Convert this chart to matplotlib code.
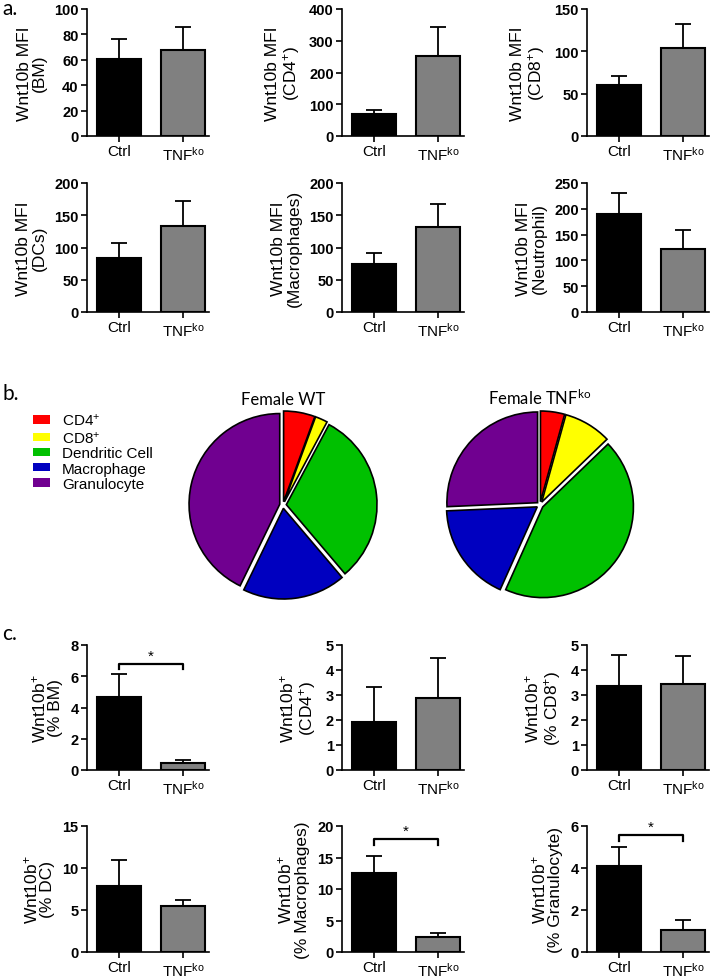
import numpy as np
import matplotlib
matplotlib.use("Agg")
import matplotlib.pyplot as plt
from matplotlib.patches import Patch

plt.rcParams['mathtext.default'] = 'regular'

ARIAL = ['Liberation Sans', 'DejaVu Sans']
CALIBRI = ['Lato', 'DejaVu Sans']

# ---- data ----
groups = ['Ctrl', 'TNF$^{ko}$']

# a. Wnt10b MFI (mean, upper error)
mfi_ylabels = ['Wnt10b MFI\n(BM)', 'Wnt10b MFI\n(CD4$^{+}$)', 'Wnt10b MFI\n(CD8$^{+}$)',
               'Wnt10b MFI\n(DCs)', 'Wnt10b MFI\n(Macrophages)', 'Wnt10b MFI\n(Neutrophil)']
mfi_mean = [[61, 68], [70, 253], [60.5, 104], [83, 134], [75, 132.5], [190, 122]]
mfi_err = [[15, 18], [11.5, 91], [10.5, 28], [24, 37.5], [17, 35.5], [40, 36]]
mfi_ymax = [100, 400, 150, 200, 200, 250]
mfi_step = [20, 100, 50, 50, 50, 50]

# b. cell composition (%)
cell_types = ['CD4$^{+}$', 'CD8$^{+}$', 'Dendritic Cell', 'Macrophage', 'Granulocyte']
cell_colors = ['#ff0000', '#ffff00', '#00c000', '#0000c0', '#700090']
wt_pct = [5.6, 2.2, 31.0, 18.4, 42.8]
ko_pct = [4.3, 8.5, 43.9, 17.6, 25.7]

# c. Wnt10b+ percentages
pos_ylabels = ['Wnt10b$^{+}$\n(% BM)', 'Wnt10b$^{+}$\n(CD4$^{+}$)', 'Wnt10b$^{+}$\n(% CD8$^{+}$)',
               'Wnt10b$^{+}$\n(% DC)', 'Wnt10b$^{+}$\n(% Macrophages)', 'Wnt10b$^{+}$\n(% Granulocyte)']
pos_mean = [[4.69, 0.43], [1.93, 2.88], [3.38, 3.44], [7.9, 5.5], [12.55, 2.45], [4.1, 1.05]]
pos_err = [[1.45, 0.21], [1.38, 1.6], [1.21, 1.13], [3.08, 0.7], [2.75, 0.6], [0.9, 0.47]]
pos_ymax = [8, 5, 5, 15, 20, 6]
pos_step = [2, 1, 1, 5, 5, 2]
pos_sig = [6.8, None, None, None, 17.9, 5.55]

W, H = 722, 979
fig = plt.figure(figsize=(W / 100, H / 100), dpi=100)


def px_rect(left, top, width, bottom):
    return [left / W, 1 - bottom / H, width / W, (bottom - top) / H]


def bar_panel(rect, mean, err, ymax, step, ylabel, sig=None):
    ax = fig.add_axes(rect)
    x = np.arange(len(groups))
    ax.bar(x, mean, width=0.69, color=['black', '#808080'], edgecolor='black',
           linewidth=1.5, zorder=3)
    ax.errorbar(x, mean, yerr=[[0, 0], err], fmt='none', ecolor='black',
                elinewidth=1.3, capsize=6, capthick=1.3, zorder=2)
    ax.set_xlim(-0.5, 1.4)
    ax.set_ylim(0, ymax)
    yt = np.arange(0, ymax + step / 2, step)
    ax.set_yticks(yt)
    ax.set_yticklabels([f'{v:g}' for v in yt], family=ARIAL, fontsize=10.5,
                       fontweight='bold')
    ax.set_xticks(x)
    ax.set_xticklabels(groups, family=ARIAL, fontsize=11)
    for s in ['top', 'right']:
        ax.spines[s].set_visible(False)
    for s in ['left', 'bottom']:
        ax.spines[s].set_linewidth(1.2)
    ax.tick_params(direction='out', length=4, width=1.2, pad=2)
    ax.set_ylabel(ylabel, family=ARIAL, fontsize=12.5, labelpad=5, linespacing=1.05)
    if sig is not None:
        d = 0.045 * ymax
        ax.plot([0, 0, 1, 1], [sig - d, sig, sig, sig - d], color='black', lw=1.6,
                clip_on=False, zorder=4)
        ax.text(0.5, sig + 0.01 * ymax, '*', ha='center', va='bottom', fontsize=11,
                family=ARIAL)
    return ax


col_left = [87, 342, 587]
row_a = [(10, 137), (184, 313)]
row_c = [(646, 771), (827, 953)]

for i in range(6):
    top, bot = row_a[i // 3]
    bar_panel(px_rect(col_left[i % 3], top, 122, bot), mfi_mean[i], mfi_err[i],
              mfi_ymax[i], mfi_step[i], mfi_ylabels[i])
    top, bot = row_c[i // 3]
    bar_panel(px_rect(col_left[i % 3], top, 122, bot), pos_mean[i], pos_err[i],
              pos_ymax[i], pos_step[i], pos_ylabels[i], pos_sig[i])

# pies
for cx, pct, title in [(283, wt_pct, 'Female WT'), (540, ko_pct, 'Female TNF$^{ko}$')]:
    ax = fig.add_axes(px_rect(cx - 105, 506 - 105, 210, 506 + 105))
    ax.pie(pct, colors=cell_colors, radius=0.95, explode=[0.035] * len(pct),
           startangle=90, counterclock=False,
           wedgeprops=dict(edgecolor='black', linewidth=1.2))
    ax.set_xlim(-1.1, 1.1)
    ax.set_ylim(-1.1, 1.1)
    ax.set_aspect('equal')
    fig.text(cx / W, 1 - 405 / H, title, ha='center', va='baseline',
             family=CALIBRI, fontsize=12)

handles = [Patch(facecolor=c, edgecolor='none') for c in cell_colors]
fig.legend(handles, cell_types, loc='upper left', bbox_to_anchor=(33 / W, 1 - 413 / H),
           frameon=False, prop=dict(family=ARIAL, size=11), handlelength=1.1,
           handleheight=0.45, handletextpad=0.8, labelspacing=0.08,
           borderaxespad=0, borderpad=0)

for lab, ypx in [('a.', 15), ('b.', 400), ('c.', 640)]:
    fig.text(2 / W, 1 - ypx / H, lab, ha='left', va='baseline', family=CALIBRI,
             fontsize=15)

fig.savefig('out.png', dpi=100)
